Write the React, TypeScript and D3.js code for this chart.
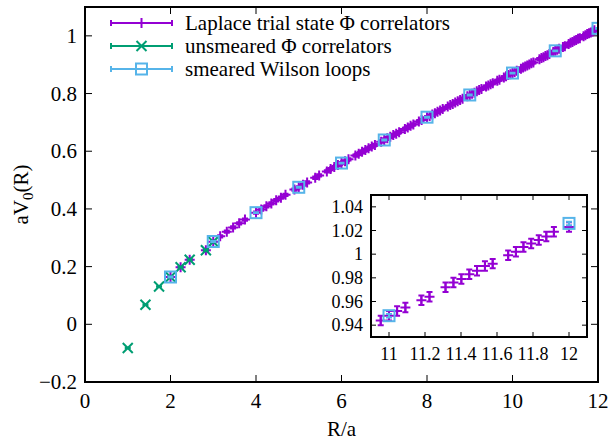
import React from 'react';
import * as d3 from 'd3';

// ---------- data ----------
const laplaceR = [
  2.000, 2.236, 2.449, 2.828, 3.000, 3.162, 3.317, 3.464, 3.606, 3.742,
  4.000, 4.123, 4.243, 4.359, 4.472, 4.583, 4.690, 4.899, 5.000, 5.099,
  5.196, 5.385, 5.477, 5.657, 5.745, 5.831, 5.916, 6.000, 6.083, 6.164,
  6.325, 6.403, 6.481, 6.557, 6.633, 6.708, 6.782, 6.928, 7.000, 7.071,
  7.141, 7.211, 7.280, 7.348, 7.483, 7.550, 7.616, 7.681, 7.810, 7.874,
  8.000, 8.062, 8.124, 8.185, 8.246, 8.307, 8.367, 8.485, 8.544, 8.602,
  8.660, 8.718, 8.775, 8.832, 8.944, 9.000, 9.055, 9.110, 9.165, 9.220,
  9.274, 9.381, 9.434, 9.487, 9.539, 9.644, 9.695, 9.798, 9.849, 9.899,
  9.950, 10.000, 10.050, 10.100, 10.198, 10.247, 10.296, 10.344, 10.392, 10.440,
  10.488, 10.630, 10.677, 10.724, 10.770, 10.817, 10.863, 10.954, 11.000, 11.045,
  11.091, 11.180, 11.225, 11.314, 11.358, 11.402, 11.446, 11.489, 11.533, 11.576,
  11.662, 11.705, 11.747, 11.790, 11.832, 11.874, 11.916, 12.000,
];
const laplaceV = [
  0.164, 0.198, 0.224, 0.257, 0.286, 0.305, 0.321, 0.336, 0.350, 0.363,
  0.387, 0.398, 0.409, 0.419, 0.430, 0.439, 0.449, 0.467, 0.475, 0.484,
  0.492, 0.508, 0.516, 0.530, 0.538, 0.545, 0.552, 0.559, 0.565, 0.572,
  0.585, 0.591, 0.598, 0.604, 0.610, 0.616, 0.622, 0.633, 0.639, 0.645,
  0.650, 0.656, 0.661, 0.666, 0.677, 0.682, 0.688, 0.693, 0.703, 0.708,
  0.718, 0.722, 0.727, 0.732, 0.737, 0.741, 0.746, 0.755, 0.760, 0.764,
  0.769, 0.773, 0.778, 0.782, 0.791, 0.795, 0.799, 0.803, 0.808, 0.812,
  0.816, 0.824, 0.828, 0.832, 0.836, 0.844, 0.848, 0.856, 0.860, 0.864,
  0.867, 0.871, 0.875, 0.879, 0.886, 0.890, 0.894, 0.897, 0.901, 0.905,
  0.908, 0.919, 0.923, 0.926, 0.930, 0.933, 0.937, 0.944, 0.948, 0.952,
  0.955, 0.961, 0.964, 0.972, 0.976, 0.979, 0.983, 0.986, 0.990, 0.992,
  0.999, 1.002, 1.006, 1.009, 1.012, 1.015, 1.019, 1.023,
];
const laplaceErr = 0.004;

const unsmearedR = [1.000, 1.414, 1.732, 2.000, 2.236, 2.449, 2.828, 3.000];
const unsmearedV = [-0.082, 0.068, 0.131, 0.164, 0.198, 0.224, 0.257, 0.286];
const unsmearedErr = 0.001;

const wilsonR = [2, 3, 4, 5, 6, 7, 8, 9, 10, 11, 12];
const wilsonV = [0.164, 0.287, 0.387, 0.475, 0.559, 0.639, 0.718, 0.795, 0.871, 0.948, 1.026];
const wilsonErr = 0.0015;

const xTicks = [0, 2, 4, 6, 8, 10, 12];
const yTicks = [-0.2, 0, 0.2, 0.4, 0.6, 0.8, 1.0];
const insetXTicks = [11, 11.2, 11.4, 11.6, 11.8, 12];
const insetYTicks = [0.94, 0.96, 0.98, 1.0, 1.02, 1.04];

const seriesLabels = [
  'Laplace trial state \u03A6 correlators',
  'unsmeared \u03A6 correlators',
  'smeared Wilson loops',
];

// ---------- style ----------
const W = 613;
const H = 441;
const PURPLE = '#9400d3';
const GREEN = '#009e73';
const BLUE = '#56b4e9';
const FONT = "'Liberation Serif', 'DejaVu Serif', 'Noto Serif', Tinos, 'Times New Roman', 'Liberation Sans', sans-serif";

const main = { left: 85, right: 598, top: 7, bottom: 382 };
const inset = { left: 371, right: 587, top: 195, bottom: 337 };

type Pt = { r: number; v: number };
const zip = (rs: number[], vs: number[]): Pt[] => rs.map((r, i) => ({ r, v: vs[i] }));

function plusPath(x: number, y: number, s: number) {
  return `M${x - s},${y}H${x + s}M${x},${y - s}V${y + s}`;
}
function crossPath(x: number, y: number, s: number) {
  return `M${x - s},${y - s}L${x + s},${y + s}M${x - s},${y + s}L${x + s},${y - s}`;
}
function errPath(x: number, y1: number, y2: number, c: number) {
  return `M${x},${y1}V${y2}M${x - c},${y1}H${x + c}M${x - c},${y2}H${x + c}`;
}

function Series({
  pts, xs, ys, err, color, kind,
}: {
  pts: Pt[]; xs: d3.ScaleLinear<number, number>; ys: d3.ScaleLinear<number, number>;
  err: number; color: string; kind: 'plus' | 'cross' | 'square';
}) {
  return (
    <g stroke={color} fill="none" strokeWidth={2}>
      {pts.map((p, i) => {
        const x = xs(p.r);
        const y = ys(p.v);
        const e = errPath(x, ys(p.v - err), ys(p.v + err), 3);
        let m: React.ReactNode = null;
        if (kind === 'plus') m = <path d={plusPath(x, y, 5)} />;
        else if (kind === 'cross') m = <path d={crossPath(x, y, 5)} />;
        else m = <rect x={x - 5.5} y={y - 5.5} width={11} height={11} />;
        return (
          <g key={i}>
            <path d={e} />
            {m}
          </g>
        );
      })}
    </g>
  );
}

export default function App() {
  const xs = d3.scaleLinear().domain([0, 12]).range([main.left, main.right]);
  const ys = d3.scaleLinear().domain([-0.2, 1.1]).range([main.bottom, main.top]);
  const ixs = d3.scaleLinear().domain([10.9, 12.1]).range([inset.left, inset.right]);
  const iys = d3.scaleLinear().domain([0.93, 1.05]).range([inset.bottom, inset.top]);

  const lap = zip(laplaceR, laplaceV);
  const uns = zip(unsmearedR, unsmearedV);
  const wil = zip(wilsonR, wilsonV);
  const inLap = lap.filter((p) => p.r >= 10.9 && p.r <= 12.1);
  const inWil = wil.filter((p) => p.r >= 10.9 && p.r <= 12.1);

  const fmt = (v: number) => (Math.abs(v) < 1e-9 ? '0' : d3.format('~g')(v));

  const legendRows = [23, 46, 69];
  const legColors = [PURPLE, GREEN, BLUE];

  return (
    <svg
      width={W}
      height={H}
      style={{ position: 'fixed', left: 0, top: 0, background: '#fff', fontFamily: FONT }}
    >
      <rect x={0} y={0} width={W} height={H} fill="#fff" />
      <defs>
        <clipPath id="mainClip">
          <rect x={main.left} y={main.top} width={main.right - main.left} height={main.bottom - main.top} />
        </clipPath>
        <clipPath id="insetClip">
          <rect x={inset.left} y={inset.top} width={inset.right - inset.left} height={inset.bottom - inset.top} />
        </clipPath>
      </defs>

      {/* main ticks */}
      <g stroke="#000" strokeWidth={1}>
        {xTicks.map((t) => (
          <g key={'xt' + t}>
            <line x1={xs(t)} x2={xs(t)} y1={main.bottom} y2={main.bottom - 7} />
            <line x1={xs(t)} x2={xs(t)} y1={main.top} y2={main.top + 7} />
          </g>
        ))}
        {yTicks.map((t) => (
          <g key={'yt' + t}>
            <line x1={main.left} x2={main.left + 7} y1={ys(t)} y2={ys(t)} />
            <line x1={main.right} x2={main.right - 7} y1={ys(t)} y2={ys(t)} />
          </g>
        ))}
      </g>
      <g fontSize={21} fill="#000">
        {xTicks.map((t) => (
          <text key={'xl' + t} x={xs(t)} y={408} textAnchor="middle">{fmt(t)}</text>
        ))}
        {yTicks.map((t) => (
          <text key={'yl' + t} x={77} y={ys(t) + 7} textAnchor="end">{fmt(t)}</text>
        ))}
        <text x={(main.left + main.right) / 2} y={436} textAnchor="middle">R/a</text>
        <text transform={`translate(28,${(main.top + main.bottom) / 2}) rotate(-90)`} textAnchor="middle">
          aV<tspan fontSize={15} dy={5}>0</tspan><tspan dy={-5}>(R)</tspan>
        </text>
      </g>

      {/* main data */}
      <g clipPath="url(#mainClip)">
        <Series pts={lap} xs={xs} ys={ys} err={laplaceErr} color={PURPLE} kind="plus" />
        <Series pts={uns} xs={xs} ys={ys} err={unsmearedErr} color={GREEN} kind="cross" />
        <Series pts={wil} xs={xs} ys={ys} err={wilsonErr} color={BLUE} kind="square" />
      </g>

      {/* legend */}
      <g fontSize={21}>
        {seriesLabels.map((lab, i) => {
          const y = legendRows[i];
          const c = legColors[i];
          const x1 = 111, x2 = 172, xm = 141.5;
          return (
            <g key={lab}>
              <g stroke={c} strokeWidth={2} fill="none">
                <path d={`M${x1},${y}H${x2}M${x1},${y - 3}V${y + 3}M${x2},${y - 3}V${y + 3}`} />
                {i === 0 && <path d={plusPath(xm, y, 5)} />}
                {i === 1 && <path d={crossPath(xm, y, 5)} />}
                {i === 2 && <rect x={xm - 5.5} y={y - 5.5} width={11} height={11} />}
              </g>
              <text x={185} y={y + 7} fill="#000">{lab}</text>
            </g>
          );
        })}
      </g>

      <rect x={main.left} y={main.top} width={main.right - main.left} height={main.bottom - main.top}
        fill="none" stroke="#000" strokeWidth={2} />

      {/* inset */}
      <rect x={inset.left} y={inset.top} width={inset.right - inset.left} height={inset.bottom - inset.top} fill="#fff" />
      <g stroke="#000" strokeWidth={1}>
        {insetXTicks.map((t) => (
          <g key={'ixt' + t}>
            <line x1={ixs(t)} x2={ixs(t)} y1={inset.bottom} y2={inset.bottom - 5} />
            <line x1={ixs(t)} x2={ixs(t)} y1={inset.top} y2={inset.top + 5} />
          </g>
        ))}
        {insetYTicks.map((t) => (
          <g key={'iyt' + t}>
            <line x1={inset.left} x2={inset.left + 5} y1={iys(t)} y2={iys(t)} />
            <line x1={inset.right} x2={inset.right - 5} y1={iys(t)} y2={iys(t)} />
          </g>
        ))}
      </g>
      <g fontSize={18} fill="#000">
        {insetXTicks.map((t) => (
          <text key={'ixl' + t} x={ixs(t)} y={360} textAnchor="middle">{fmt(t)}</text>
        ))}
        {insetYTicks.map((t) => (
          <text key={'iyl' + t} x={363} y={iys(t) + 6} textAnchor="end">{fmt(t)}</text>
        ))}
      </g>
      <g clipPath="url(#insetClip)">
        <Series pts={inLap} xs={ixs} ys={iys} err={laplaceErr} color={PURPLE} kind="plus" />
        <Series pts={inWil} xs={ixs} ys={iys} err={wilsonErr} color={BLUE} kind="square" />
      </g>
      <rect x={inset.left} y={inset.top} width={inset.right - inset.left} height={inset.bottom - inset.top}
        fill="none" stroke="#000" strokeWidth={2} />
    </svg>
  );
}
